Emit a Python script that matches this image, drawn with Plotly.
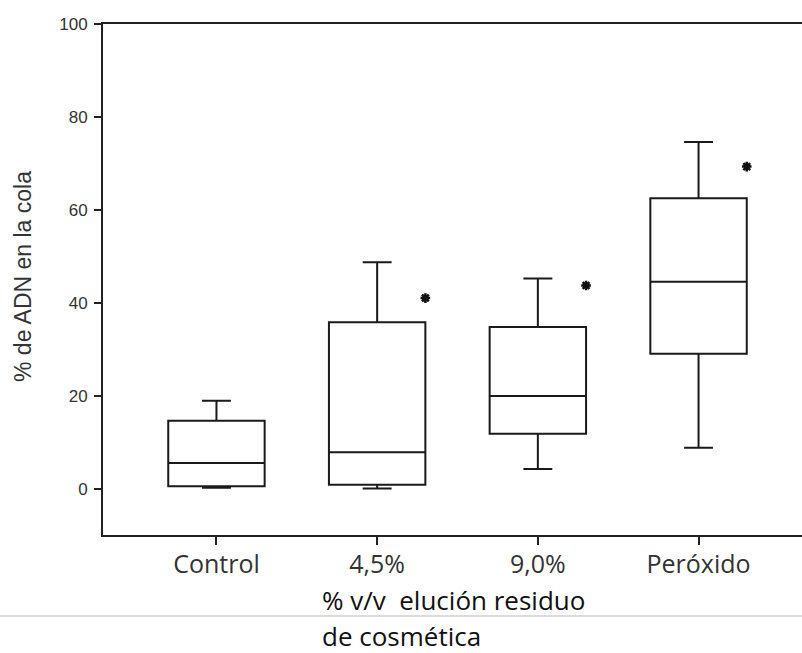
import plotly.graph_objects as go

# Percentage of DNA in the comet tail per treatment group
groups = ["Control", "4,5%", "9,0%", "Peróxido"]
lower_whisker = [0.15, 0.0, 4.2, 8.8]
q1 = [0.5, 0.8, 11.8, 29.0]
median = [5.5, 7.8, 19.9, 44.5]
q3 = [14.6, 35.8, 34.8, 62.5]
upper_whisker = [18.9, 48.7, 45.2, 74.6]

# Groups flagged as significantly different from control (value = asterisk height)
signif_groups = [1, 2, 3]
signif_height = [41.0, 43.7, 69.3]

y_ticks = [0, 20, 40, 60, 80, 100]

W, H = 802, 653
L, R, T, B = 103, 0, 24, 118
plot_w = W - L - R
plot_h = H - T - B

pos = list(range(len(groups)))

fig = go.Figure()

fig.add_trace(go.Box(
    x=pos,
    q1=q1,
    median=median,
    q3=q3,
    lowerfence=lower_whisker,
    upperfence=upper_whisker,
    boxpoints=False,
    fillcolor="white",
    line=dict(color="#1a1a1a", width=2),
    width=0.6,
    whiskerwidth=0.3,
    hoverinfo="skip",
    showlegend=False,
))

fig.add_trace(go.Scatter(
    x=[g + 0.3 for g in signif_groups],
    y=signif_height,
    mode="markers",
    marker=dict(symbol="asterisk-open", size=8, color="#111",
                line=dict(color="#111", width=2.5)),
    hoverinfo="skip",
    showlegend=False,
))

fig.update_layout(
    width=W, height=H,
    margin=dict(l=L, r=R, t=T, b=B, pad=0),
    paper_bgcolor="white",
    plot_bgcolor="white",
    showlegend=False,
    xaxis=dict(
        range=[-0.706, -0.706 + plot_w / 160.7],
        tickmode="array",
        tickvals=pos,
        ticktext=groups,
        ticks="outside",
        ticklen=8,
        tickwidth=2,
        tickcolor="#222",
        showline=True,
        linecolor="#222",
        linewidth=2,
        mirror=True,
        showgrid=False,
        zeroline=False,
        tickfont=dict(family="Open Sans", size=25, color="#333"),
        ticklabelstandoff=-2,
    ),
    yaxis=dict(
        range=[-10, 100],
        tickmode="array",
        tickvals=y_ticks,
        ticks="outside",
        ticklen=7,
        tickwidth=2,
        tickcolor="#222",
        showline=True,
        linecolor="#222",
        linewidth=2,
        showgrid=False,
        zeroline=False,
        tickfont=dict(family="Liberation Sans", size=17, color="#333"),
        ticklabelstandoff=3,
    ),
)

def px_x(px):
    return (px - L) / plot_w

def px_y(py):
    return (H - B - py) / plot_h

annotations = [
    dict(text="% de ADN en la cola", textangle=-90,
         x=px_x(23), y=px_y(277), xref="paper", yref="paper",
         xanchor="center", yanchor="middle", showarrow=False,
         font=dict(family="Liberation Sans", size=23, color="#333")),
    dict(text="% v/v  elución residuo",
         x=px_x(453), y=px_y(600), xref="paper", yref="paper",
         xanchor="center", yanchor="middle", showarrow=False, borderpad=0,
         font=dict(family="Open Sans", size=26, color="#111")),
    dict(text="de cosmética",
         x=px_x(401), y=px_y(636), xref="paper", yref="paper",
         xanchor="center", yanchor="middle", showarrow=False, borderpad=0,
         font=dict(family="Open Sans", size=26, color="#111")),
]
fig.update_layout(annotations=annotations)

# Thin rule between the two lines of the x-axis caption
fig.add_shape(type="line", xref="paper", yref="paper",
              x0=px_x(0), x1=px_x(W), y0=px_y(616), y1=px_y(616),
              line=dict(color="#cfcfcf", width=1.5))

fig.write_html("out.html")
